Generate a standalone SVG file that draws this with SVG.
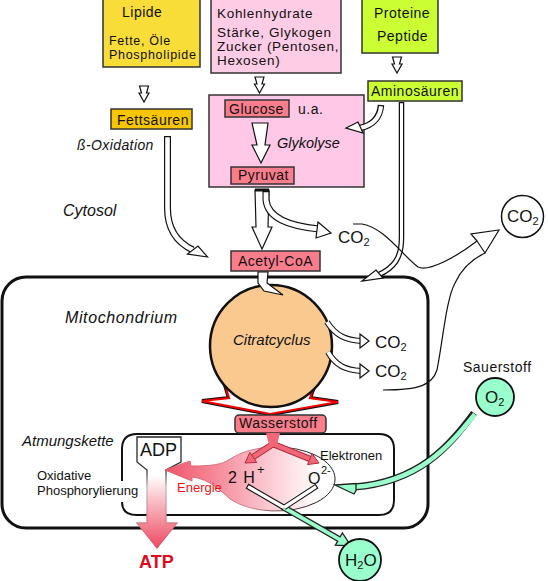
<svg xmlns="http://www.w3.org/2000/svg" width="548" height="581" viewBox="0 0 548 581">
<defs>
<style>
text{font-family:"Liberation Sans",Arial,Helvetica,sans-serif;fill:#111}
.s14{font-size:14px;letter-spacing:0.5px}
.k14{font-size:13.5px;letter-spacing:0.7px}
.s13{font-size:12.5px;letter-spacing:0.7px}
.it{font-style:italic}
.box{stroke:#333;stroke-width:1.5}
.hol{fill:#fff;stroke:#111;stroke-width:1.2;stroke-linejoin:miter}
.sb{fill:none;stroke:#111}
.sw{fill:none;stroke:#fff}
.co{font-size:17px}
.red{fill:#fa7d8c}
.mint{fill:#99ffcc;stroke:#222;stroke-width:1.3}
</style>
<linearGradient id="eg" gradientUnits="userSpaceOnUse" x1="165" y1="0" x2="336" y2="0">
<stop offset="0" stop-color="#ee5468"/><stop offset="0.3" stop-color="#f58a9a"/><stop offset="0.6" stop-color="#fbc8d1"/><stop offset="0.9" stop-color="#ffffff"/>
</linearGradient>
<linearGradient id="es" gradientUnits="userSpaceOnUse" x1="165" y1="0" x2="336" y2="0">
<stop offset="0" stop-color="#e35a6c"/><stop offset="0.5" stop-color="#d08090"/><stop offset="0.85" stop-color="#222"/>
</linearGradient>
<linearGradient id="ag" gradientUnits="userSpaceOnUse" x1="0" y1="462" x2="0" y2="548">
<stop offset="0" stop-color="#ffffff"/><stop offset="0.15" stop-color="#ffffff"/><stop offset="1" stop-color="#ee4a60"/>
</linearGradient>
<linearGradient id="as" gradientUnits="userSpaceOnUse" x1="0" y1="437" x2="0" y2="548">
<stop offset="0" stop-color="#222"/><stop offset="0.3" stop-color="#333"/><stop offset="0.45" stop-color="#bbb"/><stop offset="1" stop-color="#e8506a"/>
</linearGradient>
</defs>
<rect width="548" height="581" fill="#fff"/>

<g id="mitochondrion">
<rect x="2" y="277" width="426" height="251" rx="24" fill="none" stroke="#111" stroke-width="3"/>
<text x="65" y="323" class="it" font-size="16" letter-spacing="0.6">Mitochondrium</text>
</g>
<g id="atmungskette">
<path d="M122,481 L122,449 Q122,434 137,434 L379,434 Q394,434 394,449 L394,500 Q394,515 379,515 L137,515 Q122,515 122,502" fill="none" stroke="#111" stroke-width="2"/>
<text x="22" y="446" class="it" font-size="15">Atmungskette</text>
<text x="37" y="480" font-size="13">Oxidative</text>
<text x="37" y="495" font-size="13">Phosphorylierung</text>
</g>

<g id="lipide">
<rect x="103" y="-1" width="97" height="68" fill="#f8dc38" class="box"/>
<text x="122" y="17" class="s14">Lipide</text>
<text x="109" y="45" class="s13">Fette, Öle</text>
<text x="109" y="59" class="s13">Phospholipide</text>
</g>
<g id="kohlenhydrate">
<rect x="211" y="-1" width="130" height="74" fill="#ffcce6" class="box"/>
<text x="217" y="18" class="k14">Kohlenhydrate</text>
<text x="217" y="37" class="k14">Stärke, Glykogen</text>
<text x="217" y="51" class="k14">Zucker (Pentosen,</text>
<text x="217" y="65" class="k14">Hexosen)</text>
</g>
<g id="proteine">
<rect x="362" y="-1" width="76" height="54" fill="#ccff33" class="box"/>
<text x="374" y="18" class="s14">Proteine</text>
<text x="377" y="41" class="s14">Peptide</text>
</g>
<g id="fettsaeuren">
<rect x="111" y="109" width="81" height="20" fill="#f7c600" class="box"/>
<text x="117" y="125" class="s14">Fettsäuren</text>
</g>
<g id="aminosaeuren">
<rect x="368" y="81" width="94" height="20" fill="#ccff33" class="box"/>
<text x="371" y="96" class="s14">Aminosäuren</text>
</g>
<g id="glykolyse">
<rect x="209" y="95" width="155" height="92" fill="#ffc8e6" class="box"/>
<text x="277" y="148" class="it" font-size="14.5">Glykolyse</text>
<text x="298" y="114" class="s14">u.a.</text>
</g>
<g id="glucose">
<rect x="225" y="100" width="64" height="17" class="red box"/>
<text x="229" y="114" class="s14">Glucose</text>
</g>
<g id="pyruvat">
<rect x="231" y="167" width="63" height="17" class="red box"/>
<text x="238" y="180" class="s14">Pyruvat</text>
</g>
<g id="acetylcoa">
<rect x="231" y="251" width="89" height="20" class="red box"/>
<text x="238" y="266" class="s14">Acetyl-CoA</text>
</g>

<g id="labels">
<text x="77" y="150" class="it" font-size="14" letter-spacing="0.4">ß-Oxidation</text>
<text x="63" y="216" class="it" font-size="16">Cytosol</text>
<text x="338" y="243" class="co">CO<tspan font-size="11" dy="3">2</tspan></text>
<text x="375" y="348" class="co">CO<tspan font-size="11" dy="3">2</tspan></text>
<text x="375" y="377" class="co">CO<tspan font-size="11" dy="3">2</tspan></text>
<text x="463" y="372" class="s14">Sauerstoff</text>
</g>

<g id="connectors">
<polygon class="hol" points="139.5,86 148.5,86 146.5,93 149,93 144,102 139,93 141.5,93"/>
<polygon class="hol" points="255,77 264,77 262,84 264.5,84 259.5,93 254.5,84 257,84"/>
<polygon class="hol" points="392.5,57 401.5,57 399.5,64 402,64 397,73 392,64 394.5,64"/>
<polygon class="hol" points="252,123 268,123 265,145 270,145 261,163 252,145 257,145"/>
<polygon class="hol" points="255,190 269,190 268,227 272,227 262,249 252,227 256,227"/>
<line x1="255" y1="190" x2="269" y2="190" stroke="#111" stroke-width="3"/>
<path class="sb" stroke-width="7" d="M266,191 L266,200 C268,218 288,226 319,229"/>
<path class="sw" stroke-width="4.8" d="M266,192.3 L266,200 C268,218 288,226 319,229"/>
<polygon class="hol" points="318,222 331,233 316,238"/>
<path class="sb" stroke-width="7" d="M167.5,136 L167.5,208 C167.5,228 176,242 193,250"/>
<path class="sw" stroke-width="4.6" d="M167.5,137.3 L167.5,208 C167.5,228 176,242 193,250"/>
<polygon class="hol" points="207.5,257 187.5,254 198,246"/>
<path class="sb" stroke-width="6.5" d="M381,105 C380,117 374,125 360,128"/>
<path class="sw" stroke-width="4" d="M381,106.3 C380,117 374,125 360,128"/>
<polygon class="hol" points="346,128 358,122 363,133"/>
<path class="sb" stroke-width="5.5" d="M401.5,102 L401.5,238 C401.5,258 394,268 378,275"/>
<path class="sw" stroke-width="3" d="M401.5,103.2 L401.5,238 C401.5,258 394,268 378,275"/>
<polygon class="hol" points="362,281 376,270 383,278"/>
<path fill="none" stroke="#111" stroke-width="1.2" d="M353,224 L362,224 C385,228 402,255 418,267 C428,272 455,258 477,241"/>
<path fill="none" stroke="#111" stroke-width="1.2" d="M383,390 C420,390 432,385 437,370 C443,340 446,300 455,283 C462,268 472,259 485,253"/>
<polygon class="hol" points="477,241 471,234 499,230 485,253"/>
</g>

<g id="citratcyclus">
<polygon points="222,375 229,398 202,401 270,414 338,402 310,398 318,375" fill="#fff" stroke="#111" stroke-width="4.2" stroke-linejoin="miter"/>
<polygon points="222,375 229,398 202,401 270,414 338,402 310,398 318,375" fill="#fff" stroke="#ee0000" stroke-width="2.2" stroke-linejoin="miter"/>
<circle cx="271" cy="346" r="61" fill="#f9c98f" stroke="#111" stroke-width="2.5"/>
<text x="233" y="345" class="it" font-size="15">Citratcyclus</text>
</g>
<g id="connectors2">
<polygon class="hol" points="258,272 268,272 267,283 283,295 264,291 258,283"/>
<path class="sb" stroke-width="6" d="M327,322 C336,336 346,340 361,341"/>
<path class="sw" stroke-width="3.8" d="M327,322 C336,336 346,340 361,341"/>
<polygon class="hol" points="360,338 360,334 369,341 360,348 360,344"/>
<path class="sb" stroke-width="6" d="M328,352 C336,366 346,370 361,371"/>
<path class="sw" stroke-width="3.8" d="M328,352 C336,366 346,370 361,371"/>
<polygon class="hol" points="360,368 360,364 369,371 360,378 360,374"/>
</g>

<g id="wasserstoff">
<rect x="235" y="415" width="91" height="18" rx="4" class="red box"/>
<text x="239" y="428" class="s14">Wasserstoff</text>
</g>

<g id="adp-atp">
<path d="M137,437 L181,437 L181,462 L166,470 L166,523 L177,523 L157,548 L137,523 L147,523 L147,470 L137,462 Z" fill="url(#ag)" stroke="url(#as)" stroke-width="1.3"/>
<text x="140" y="456" font-size="18">ADP</text>
<text x="139" y="568" font-size="18" font-weight="bold" style="fill:#dd0a1e">ATP</text>
</g>

<g id="energie">
<path d="M165,470 L190,461 L191,466 C210,466 222,465 230,459 A59,32 0 1 1 230,499 C222,492 210,479 192,477 L192,481 Z" fill="url(#eg)" stroke="url(#es)" stroke-width="1"/>
<text x="177" y="492" font-size="13" style="fill:#ee1111">Energie</text>
<text x="228" y="483" font-size="16" letter-spacing="1">2 H</text>
<text x="257" y="474" font-size="13">+</text>
<text x="308" y="484" font-size="16">O</text>
<text x="321" y="474" font-size="11">2-</text>
<text x="320" y="460" font-size="13">Elektronen</text>
</g>

<g id="connectors3">
<path d="M273,434 L273,444 L253,457 M273,444 L310,459" fill="none" stroke="#b52a3a" stroke-width="6.5" stroke-linejoin="miter"/>
<path d="M273,434 L273,444 L253,457 M273,444 L310,459" fill="none" stroke="#f06878" stroke-width="4.5" stroke-linejoin="miter"/>
<polygon points="266,433 280,433 277,445 269,445" fill="#f06878"/>
<polygon points="245,463 256.7,462.4 249.9,452.4" fill="#f06878" stroke="#b52a3a" stroke-width="1"/>
<polygon points="319,463 307.5,464.6 312.1,453.6" fill="#f06878" stroke="#b52a3a" stroke-width="1"/>
<polygon class="mint" points="281.8,509.2 337.7,541.2 335.4,545.1 351,546 342.4,532.9 340.1,536.8 284.2,504.8"/>
<path d="M247,486 L284,507.5 M317,486 L284,507.5" fill="none" stroke="#111" stroke-width="5.5"/>
<path d="M248,486.6 L284,507.5 M316,486.6 L284,507.5" fill="none" stroke="#fff" stroke-width="3.3"/>
<path d="M474,413 C450,445 420,482 354,487" fill="none" stroke="#222" stroke-width="7"/>
<path d="M474.8,414.2 C450,445 420,482 354,487" fill="none" stroke="#99ffcc" stroke-width="4.6"/>
<polygon class="mint" points="335,485 356,483.5 356,490.5 354,494"/>
</g>

<g id="co2-out">
<circle cx="522.5" cy="216.5" r="21" fill="#fff" stroke="#111" stroke-width="1.5"/>
<text x="507" y="222" class="co">CO<tspan font-size="11" dy="3">2</tspan></text>
</g>
<g id="o2">
<circle cx="495" cy="397" r="19" fill="#99ffcc" stroke="#111" stroke-width="1.8"/>
<text x="485" y="403" class="co">O<tspan font-size="11" dy="3">2</tspan></text>
</g>
<g id="h2o">
<circle cx="360" cy="560" r="21" fill="#99ffcc" stroke="#111" stroke-width="1.8"/>
<text x="345" y="566" class="co">H<tspan font-size="11" dy="3">2</tspan><tspan dy="-3">O</tspan></text>
</g>
</svg>
